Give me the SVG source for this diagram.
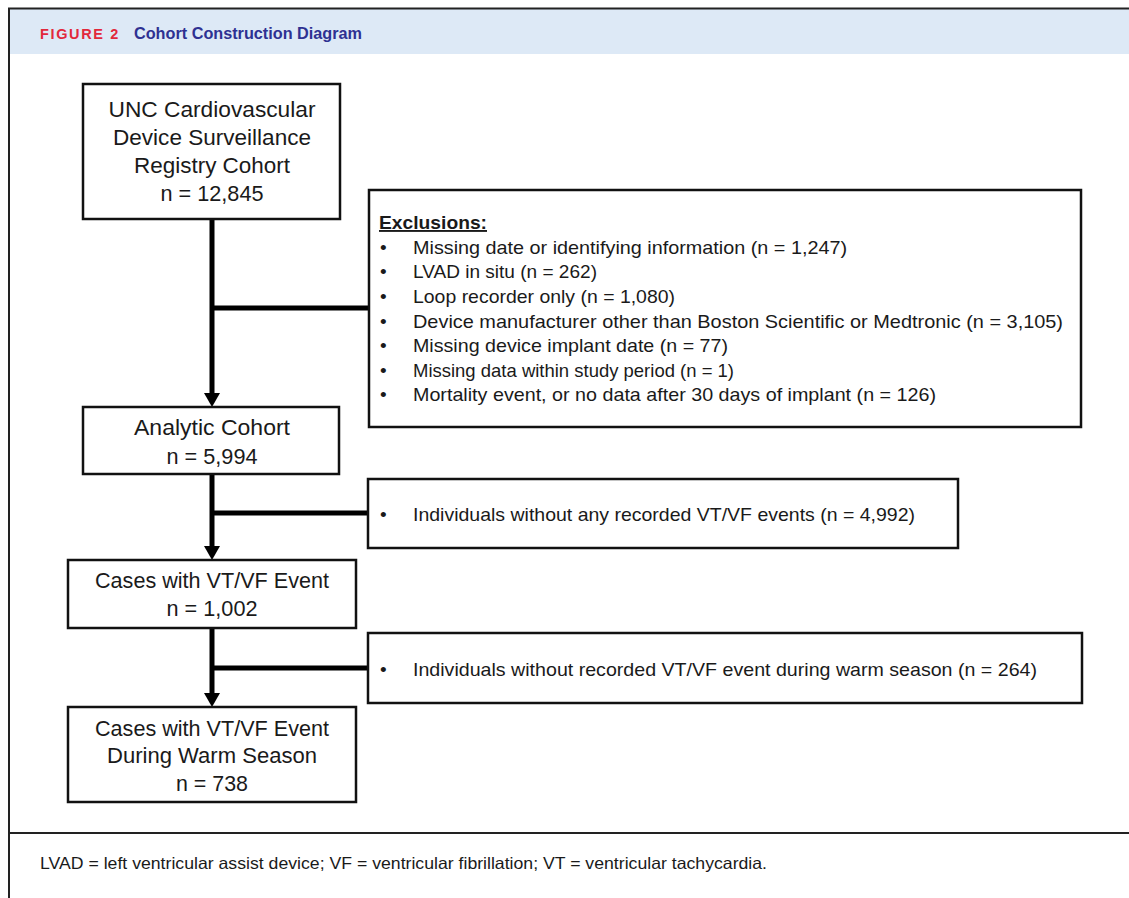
<svg xmlns="http://www.w3.org/2000/svg" width="1129" height="898" viewBox="0 0 1129 898">
<defs>
<style>
.box{fill:#fff;stroke:#111;stroke-width:2.5}
.bt{font-family:"Liberation Sans",Arial,sans-serif;font-size:21.5px;fill:#1a1a1a;text-anchor:middle}
.et{font-family:"Liberation Sans",Arial,sans-serif;font-size:19px;fill:#1a1a1a}
.ln{stroke:#000;stroke-width:5;fill:none}
</style>
</defs>
<rect x="0" y="0" width="1129" height="898" fill="#fff"/>
<g id="frame">
<rect x="9" y="9" width="1125" height="45" fill="#dde9f6"/>
<path d="M9,900 V8.5 H1130" fill="none" stroke="#222" stroke-width="2"/>
<line x1="9" y1="833" x2="1130" y2="833" stroke="#222" stroke-width="2"/>
<text x="40" y="39" font-family="'Liberation Sans',Arial,sans-serif" font-size="14" font-weight="bold" letter-spacing="1.6" fill="#e2283c" textLength="80" lengthAdjust="spacingAndGlyphs">FIGURE 2</text>
<text x="134" y="39" font-family="'Liberation Sans',Arial,sans-serif" font-size="16" font-weight="bold" fill="#2e3192" textLength="228" lengthAdjust="spacingAndGlyphs">Cohort Construction Diagram</text>
<text x="40" y="869" font-family="'Liberation Sans',Arial,sans-serif" font-size="16.5" fill="#1a1a1a" textLength="727" lengthAdjust="spacingAndGlyphs">LVAD = left ventricular assist device; VF = ventricular fibrillation; VT = ventricular tachycardia.</text>
</g>
<g id="connectors">
<line class="ln" x1="212" y1="220" x2="212" y2="395"/>
<line class="ln" x1="212" y1="308" x2="369" y2="308"/>
<path d="M204,393 L220,393 L212,407 Z" fill="#000"/>
<line class="ln" x1="212" y1="474" x2="212" y2="548"/>
<line class="ln" x1="212" y1="513" x2="368" y2="513"/>
<path d="M204,546 L220,546 L212,560 Z" fill="#000"/>
<line class="ln" x1="212" y1="628" x2="212" y2="695"/>
<line class="ln" x1="212" y1="668" x2="368" y2="668"/>
<path d="M204,693 L220,693 L212,707 Z" fill="#000"/>
</g>
<g id="registry">
<rect class="box" x="83" y="84" width="257" height="135"/>
<text class="bt" x="212" y="117" textLength="207" lengthAdjust="spacingAndGlyphs">UNC Cardiovascular</text>
<text class="bt" x="212" y="145" textLength="198" lengthAdjust="spacingAndGlyphs">Device Surveillance</text>
<text class="bt" x="212" y="173" textLength="156" lengthAdjust="spacingAndGlyphs">Registry Cohort</text>
<text class="bt" x="212" y="201" textLength="103" lengthAdjust="spacingAndGlyphs">n = 12,845</text>
</g>
<g id="exclusions1">
<rect class="box" x="369" y="190" width="712" height="237"/>
<text class="et" x="379" y="229" font-weight="bold" text-decoration="underline" textLength="108" lengthAdjust="spacingAndGlyphs">Exclusions:</text>
<g class="et">
<text x="380" y="254">•</text><text x="413" y="254" textLength="434" lengthAdjust="spacingAndGlyphs">Missing date or identifying information (n = 1,247)</text>
<text x="380" y="278">•</text><text x="413" y="278" textLength="184" lengthAdjust="spacingAndGlyphs">LVAD in situ (n = 262)</text>
<text x="380" y="303">•</text><text x="413" y="303" textLength="262" lengthAdjust="spacingAndGlyphs">Loop recorder only (n = 1,080)</text>
<text x="380" y="328">•</text><text x="413" y="328" textLength="650" lengthAdjust="spacingAndGlyphs">Device manufacturer other than Boston Scientific or Medtronic (n = 3,105)</text>
<text x="380" y="352">•</text><text x="413" y="352" textLength="315" lengthAdjust="spacingAndGlyphs">Missing device implant date (n = 77)</text>
<text x="380" y="377">•</text><text x="413" y="377" textLength="321" lengthAdjust="spacingAndGlyphs">Missing data within study period (n = 1)</text>
<text x="380" y="401">•</text><text x="413" y="401" textLength="523" lengthAdjust="spacingAndGlyphs">Mortality event, or no data after 30 days of implant (n = 126)</text>
</g>
</g>
<g id="analytic">
<rect class="box" x="83" y="407" width="256" height="67"/>
<text class="bt" x="212" y="435" textLength="156" lengthAdjust="spacingAndGlyphs">Analytic Cohort</text>
<text class="bt" x="212" y="464" textLength="91" lengthAdjust="spacingAndGlyphs">n = 5,994</text>
</g>
<g id="exclusions2">
<rect class="box" x="368" y="479" width="590" height="69"/>
<text class="et" x="380" y="521">•</text>
<text class="et" x="413" y="521" textLength="502" lengthAdjust="spacingAndGlyphs">Individuals without any recorded VT/VF events (n = 4,992)</text>
</g>
<g id="cases">
<rect class="box" x="68" y="560" width="288" height="68"/>
<text class="bt" x="212" y="588" textLength="234" lengthAdjust="spacingAndGlyphs">Cases with VT/VF Event</text>
<text class="bt" x="212" y="616" textLength="91" lengthAdjust="spacingAndGlyphs">n = 1,002</text>
</g>
<g id="exclusions3">
<rect class="box" x="368" y="633" width="714" height="70"/>
<text class="et" x="380" y="676">•</text>
<text class="et" x="413" y="676" textLength="624" lengthAdjust="spacingAndGlyphs">Individuals without recorded VT/VF event during warm season (n = 264)</text>
</g>
<g id="warm">
<rect class="box" x="68" y="707" width="288" height="95"/>
<text class="bt" x="212" y="736" textLength="234" lengthAdjust="spacingAndGlyphs">Cases with VT/VF Event</text>
<text class="bt" x="212" y="763" textLength="210" lengthAdjust="spacingAndGlyphs">During Warm Season</text>
<text class="bt" x="212" y="791" textLength="72" lengthAdjust="spacingAndGlyphs">n = 738</text>
</g>
</svg>
